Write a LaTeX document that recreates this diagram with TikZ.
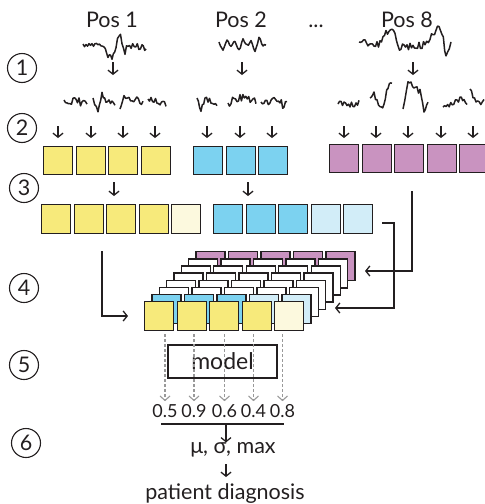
\documentclass[tikz,border=0pt]{standalone}
\usepackage{fontspec}
\setmainfont{Lato}
\usetikzlibrary{arrows.meta}
\definecolor{ink}{HTML}{231F20}
\definecolor{yel}{HTML}{F7EA7B}
\definecolor{lyel}{HTML}{FCF9DE}
\definecolor{blu}{HTML}{7CD2F0}
\definecolor{lblu}{HTML}{D2EDF8}
\definecolor{pur}{HTML}{C993C0}
\definecolor{dgray}{HTML}{999999}
\newcommand\mksig[2]{%
  \gdef\siglist{}%
  \foreach \px/\py [count=\sc, remember=\px as \lx (initially 0), remember=\py as \ly (initially 0)] in {#1}{%
    \ifnum\sc=1 \xdef\siglist{(\px,\py)}%
    \else
      \pgfmathtruncatemacro\nseg{max(1,round((\px-\lx)/1.5))}%
      \foreach \st in {1,...,\nseg}{%
        \pgfmathsetmacro\sxx{\lx+(\px-\lx)*\st/\nseg}%
        \pgfmathsetmacro\syy{\ly+(\py-\ly)*\st/\nseg+#2*rand}%
        \xdef\siglist{\siglist -- (\sxx,\syy)}%
      }%
    \fi
  }%
  \edef\sigtmp{\noexpand\draw[sigline] \siglist;}\sigtmp
}
\begin{document}
\begin{tikzpicture}[x=1pt,y=-1pt,
  every node/.style={font=\fontsize{21.5}{25}\selectfont, text=ink},
  cell/.style={draw=ink, line width=1.4pt, minimum width=29pt, minimum height=28pt, inner sep=0pt, anchor=north west},
  scell/.style={cell, minimum height=29pt},
  num/.style={circle, draw=ink, line width=1.1pt, minimum size=29pt, inner sep=0pt},
  arr/.style={draw=ink, line width=1.3pt, -{Straight Barb[length=4pt,width=10pt]}},
  garr/.style={draw=dgray, line width=1.1pt, dash pattern=on 3pt off 2pt, -{Straight Barb[length=4.5pt,width=10pt,line width=1.1pt]}},
  sigline/.style={draw=ink, line width=1.5pt, line join=round}]
\useasboundingbox (0,0) rectangle (485,504);
\pgfmathsetseed{11}

% titles
\node[anchor=base] (pos1) at (112,27) {Pos 1};
\node[anchor=base] (pos2) at (241,27) {Pos 2};
\node[anchor=base] (dots) at (316,27) {...};
\node[anchor=base] (pos8) at (407,27) {Pos 8};

% circled step numbers
\node[num] (c1) at (22,68) {1};
\node[num] (c2) at (22,128) {2};
\node[num] (c3) at (24,188) {3};
\node[num] (c4) at (24,288) {4};
\node[num] (c5) at (24,365) {5};
\node[num] (c6) at (26,443) {6};

% row 1 signals
\mksig{83/44,98/46,104/44,108/54,112/57,116/45,119/34,122/40,125/54,128/44,142/48,146/50}{3.8}
\mksig{219/42,223/50,227/38,231/48,235/40,239/50,243/38,247/46,251/40,255/50,259/38,263/46,266/44}{2.2}
\mksig{359/42,380/44,386/32,395/32,398/48,425/45,430/40,436/29,442/31,446/59,451/42}{3.6}

% row 1 arrows
\draw[arr] (113,62) -- (113,75);
\draw[arr] (242,62) -- (242,75);
\draw[arr] (413,62) -- (413,75);

% row 2 signals
\mksig{64/100,70/104,76/98,82/104,87/102}{4}
\mksig{93/98,98/111,102/95,106/100,115/103}{2.8}
\mksig{120/109,124/96,129/98,143/102}{3.2}
\mksig{148/99,160/103,166/106}{3.6}
\mksig{197/98,201/109,205/98,217/104}{2.8}
\mksig{228/103,240/98,256/101}{4}
\mksig{261/102,280/100,284/109,287/100}{3.4}
\mksig{338/104,359/103}{3.6}
\mksig{370/98,374/93,380/109,384/104,388/86,392/83}{2.6}
\mksig{403/109,408/83,414/86,420/92,424/111,428/100}{2.8}
\mksig{443/107,460/100,464/98,467/107}{3}
\mksig{470/89,476/104,484/102}{2.8}

% row 2 arrows
\foreach \x in {58,91,123,155,207,240,272,344,376,408,441,473}
  \draw[arr] (\x,126) -- (\x,138);

% row 2 boxes
\foreach \i/\x in {1/43,2/75.5,3/108,4/140.5}
  \node[cell, fill=yel] (y\i) at (\x,146) {};
\foreach \i/\x in {1/193,2/225.5,3/258}
  \node[cell, fill=blu] (b\i) at (\x,146) {};
\foreach \i/\x in {1/329,2/361.5,3/394,4/426.5,5/459}
  \node[cell, fill=pur] (p\i) at (\x,144) {};

% row 3 arrows
\draw[arr] (114,182) -- (114,196);
\draw[arr] (248,182) -- (248,196);

% row 3 boxes
\foreach \i/\x/\c in {1/41/yel,2/73.5/yel,3/106/yel,4/138.5/yel,5/171/lyel}
  \node[scell, fill=\c] (ya\i) at (\x,204) {};
\foreach \i/\x/\c in {1/213/blu,2/245.5/blu,3/278/blu,4/310.5/lblu,5/343/lblu}
  \node[scell, fill=\c] (ba\i) at (\x,204) {};

% stack
\foreach \k in {7,6,...,0}{
  \foreach \j in {0,...,4}{
    \pgfmathsetmacro\sx{144+32.5*\j+7.3*\k}
    \pgfmathsetmacro\sy{301-7.15*\k}
    \def\col{white}
    \ifnum\k=7 \def\col{pur}\fi
    \ifnum\k=1 \ifnum\j<3 \def\col{blu}\else\def\col{lblu}\fi\fi
    \ifnum\k=0 \ifnum\j<4 \def\col{yel}\else\def\col{lyel}\fi\fi
    \node[scell, fill=\col] (s-\k-\j) at (\sx,\sy) {};
  }
}

% connectors into stack
\coordinate (lstart) at (102,251);
\coordinate (ltip) at (128,316);
\draw[arr] (lstart) |- (ltip);
\coordinate (pstart) at (412,191);
\coordinate (ptip) at (365,271);
\draw[arr] (pstart) |- (ptip);
\coordinate (bstart) at (382,223);
\coordinate (bbend) at (394,223);
\coordinate (btip) at (335,308);
\draw[arr] (bstart) -- (bbend) |- (btip);

% model
\node[draw=ink, line width=1.4pt, minimum width=109pt, minimum height=33pt, inner sep=0pt, font=\fontsize{23}{26}\selectfont] (model) at (222.5,361.5) {model};

% outputs
\foreach \i/\x/\v in {1/165/0.5,2/194/0.9,3/224.5/0.6,4/253.5/0.4,5/282.5/0.8}
  \node[inner sep=0pt, font=\fontsize{18}{20}\selectfont] (n\i) at (\x,411) {\v};
\foreach \i/\j in {1/0,2/1,3/2,4/3,5/4}
  \draw[garr] (n\i |- s-0-\j.south) ++(0,3) -- ([yshift=3pt]n\i.north);

\coordinate (ul) at (161,424);
\coordinate (ur) at (284,424);
\draw[ink, line width=1.3pt] (ul) -- (ur);
\node[inner sep=0pt] (stats) at (233,450) {μ, σ, max};
\draw[arr] (226,424) -- (stats.north -| 226,0);
\node[inner sep=0pt, anchor=base] (diag) at (225,499) {patient diagnosis};
\draw[arr] (226,464) -- (226,477);
\end{tikzpicture}
\end{document}
